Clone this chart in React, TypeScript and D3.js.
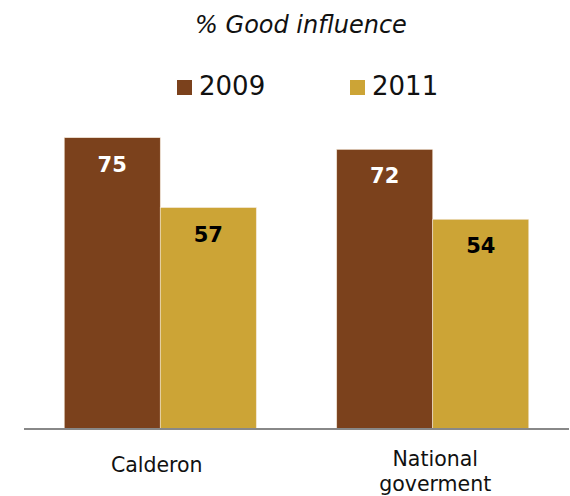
import React from "react";
import * as d3 from "d3";

const categories = ["Calderon", "National goverment"];
const categoryLines = [["Calderon"], ["National", "goverment"]];
const seriesNames = ["2009", "2011"];
const values2009 = [75, 72];
const values2011 = [57, 54];
const colors = ["#7B411C", "#CCA436"];
const labelColors = ["#ffffff", "#000000"];

const W = 570;
const H = 496;
const font = "'DejaVu Sans', Verdana, sans-serif";

export default function App() {
  const x = d3.scaleBand<string>().domain(categories).range([24, 569]).paddingInner(0).paddingOuter(0);
  const x1 = d3.scaleBand<string>().domain(seriesNames).range([0, x.bandwidth()]).paddingInner(0).paddingOuter(0.419);
  const y = d3.scaleLinear().domain([0, 100]).range([429, 40.6]);
  const series = [values2009, values2011];
  const labelShift = [-3.5, 2.5];

  return (
    <div style={{ position: "absolute", left: 0, top: 0 }}>
      <svg width={W} height={H} style={{ display: "block", fontFamily: font }}>
        <rect width={W} height={H} fill="#ffffff" />
        <text x={301} y={33} textAnchor="middle" fontSize={24} fontStyle="italic" fill="#111">
          % Good influence
        </text>
        {seriesNames.map((s, i) => {
          const lx = [177, 350][i];
          return (
            <g key={s}>
              <rect x={lx} y={80} width={15} height={15} fill={colors[i]} />
              <text x={lx + 22} y={95} fontSize={26} fill="#111">{s}</text>
            </g>
          );
        })}
        {categories.map((c, ci) => (
          <g key={c} transform={`translate(${x(c)},0)`}>
            {series.map((vals, si) => {
              const bx = x1(seriesNames[si])!;
              const v = vals[ci];
              return (
                <g key={si}>
                  <rect
                    x={bx}
                    y={y(v)}
                    width={x1.bandwidth()}
                    height={y(0) - y(v)}
                    fill={colors[si]}
                    stroke="#f3e6d6"
                    strokeWidth={0.6}
                  />
                  <text
                    x={bx + x1.bandwidth() / 2}
                    y={y(v) + 34}
                    textAnchor="middle"
                    fontSize={21}
                    fontWeight="bold"
                    fill={labelColors[si]}
                  >
                    {v}
                  </text>
                </g>
              );
            })}
          </g>
        ))}
        <line x1={24} x2={569} y1={429} y2={429} stroke="#888888" strokeWidth={2} />
        {categories.map((c, ci) => {
          const lines = categoryLines[ci];
          const cx = x(c)! + x.bandwidth() / 2 + labelShift[ci];
          const baseY = lines.length === 1 ? 472 : 466;
          return (
            <text key={c} textAnchor="middle" fontSize={20.5} fill="#111">
              {lines.map((l, li) => (
                <tspan key={li} x={cx} y={baseY + li * 24.5}>{l}</tspan>
              ))}
            </text>
          );
        })}
      </svg>
    </div>
  );
}
